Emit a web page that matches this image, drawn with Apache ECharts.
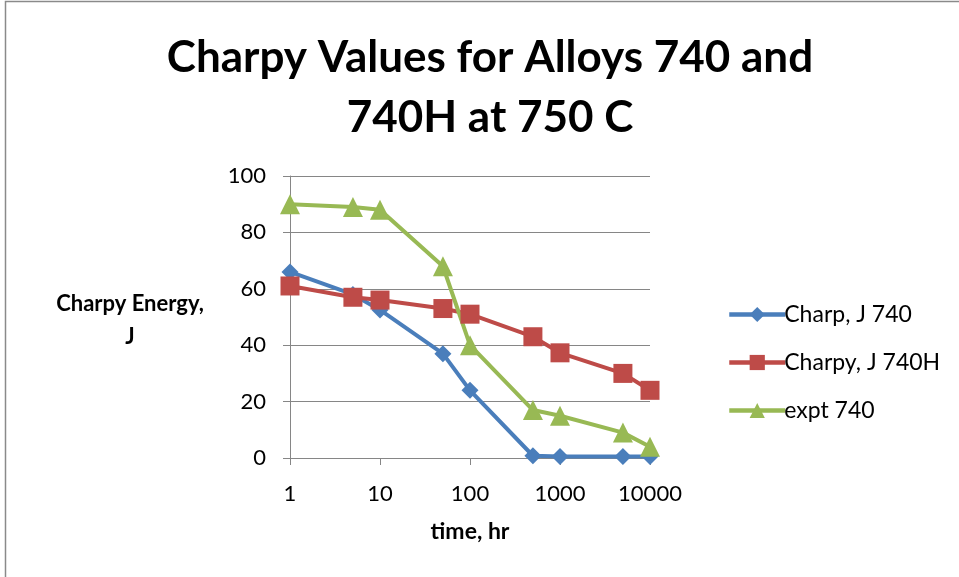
<!DOCTYPE html>
<html>
<head>
<meta charset="utf-8">
<style>
  html, body { margin: 0; padding: 0; background: #fff; }
  #chart { width: 959px; height: 577px; }
</style>
<script src="https://cdn.jsdelivr.net/npm/echarts@6/dist/echarts.min.js"></script>
</head>
<body>
<div id="chart"></div>
<script>
// Exposure time in hours (log scale)
const hours = [1, 5, 10, 50, 100, 500, 1000, 5000, 10000];
// Charpy impact energy, J
const charp740 = [66, 58, 52.5, 37, 24, 0.8, 0.5, 0.5, 0.5];
const charpy740H = [61, 57, 56, 53, 51, 43, 37.3, 30, 24];
const expt740 = [90, 89, 88, 68, 40, 17, 15, 9, 4];
const seriesNames = ['Charp, J 740', 'Charpy, J 740H', 'expt 740'];
const yTicks = [0, 20, 40, 60, 80, 100];

const FONT = 'Lato, "Open Sans", sans-serif';

const pairs = vals => hours.map((h, i) => [h, vals[i]]);

const chart = echarts.init(document.getElementById('chart'), null, { renderer: 'canvas' });

const mkSeries = (name, vals, color, symbol, size) => ({
  name,
  type: 'line',
  data: pairs(vals),
  symbol,
  symbolSize: size,
  showAllSymbol: true,
  lineStyle: { color, width: 4 },
  itemStyle: { color },
  emphasis: { disabled: true },
  animation: false
});

chart.setOption({
  backgroundColor: '#ffffff',
  animation: false,
  title: {
    text: 'Charpy Values for Alloys 740 and\n740H at 750 C',
    left: 485,
    top: 23,
    textAlign: 'center',
    textStyle: {
      fontFamily: FONT,
      fontWeight: 'bold',
      fontSize: 44,
      lineHeight: 60,
      color: '#000'
    }
  },
  grid: { left: 290, right: 309, top: 176, bottom: 119 },
  legend: {
    orient: 'vertical',
    left: 722,
    top: 298,
    itemWidth: 56,
    itemHeight: 19,
    itemGap: 25,
    data: seriesNames,
    lineStyle: { width: 4.5 },
    textStyle: { fontFamily: FONT, fontSize: 23, color: '#000', padding: [0, 0, 0, -6] }
  },
  xAxis: {
    type: 'log',
    logBase: 10,
    min: 1,
    max: 10000,
    name: 'time, hr',
    nameLocation: 'middle',
    nameGap: 62,
    nameTextStyle: { fontFamily: FONT, fontWeight: 'bold', fontSize: 23, color: '#000' },
    axisLine: { lineStyle: { color: '#868686', width: 1 } },
    axisTick: { show: true, inside: false, length: 7, lineStyle: { color: '#868686' } },
    minorTick: { show: false },
    splitLine: { show: false },
    axisLabel: {
      fontFamily: FONT, fontSize: 22, color: '#000', margin: 25,
      formatter: v => String(Math.round(v))
    }
  },
  yAxis: {
    type: 'value',
    min: yTicks[0],
    max: yTicks[yTicks.length - 1],
    interval: 20,
    axisLine: { show: true, lineStyle: { color: '#868686', width: 1 } },
    axisTick: { show: true, inside: false, length: 7, lineStyle: { color: '#868686' } },
    splitLine: { show: true, lineStyle: { color: '#868686', width: 1 } },
    axisLabel: { fontFamily: FONT, fontSize: 22, color: '#000', margin: 24 }
  },
  graphic: [
    {
      type: 'rect',
      shape: { x: 5.5, y: 1.5, width: 1200, height: 1200 },
      style: { fill: 'none', stroke: '#8a8a8a', lineWidth: 1.5 },
      silent: true
    },
    {
      type: 'text',
      x: 130,
      y: 287,
      silent: true,
      style: {
        text: 'Charpy Energy,\nJ',
        align: 'center',
        verticalAlign: 'top',
        fontFamily: FONT,
        fontWeight: 'bold',
        fontSize: 22,
        lineHeight: 33,
        fill: '#000'
      }
    }
  ],
  series: [
    mkSeries(seriesNames[0], charp740, '#4A7EBB', 'diamond', 17),
    mkSeries(seriesNames[1], charpy740H, '#BE4B48', 'rect', 19),
    mkSeries(seriesNames[2], expt740, '#98B954', 'triangle', 20)
  ]
});
</script>
</body>
</html>
